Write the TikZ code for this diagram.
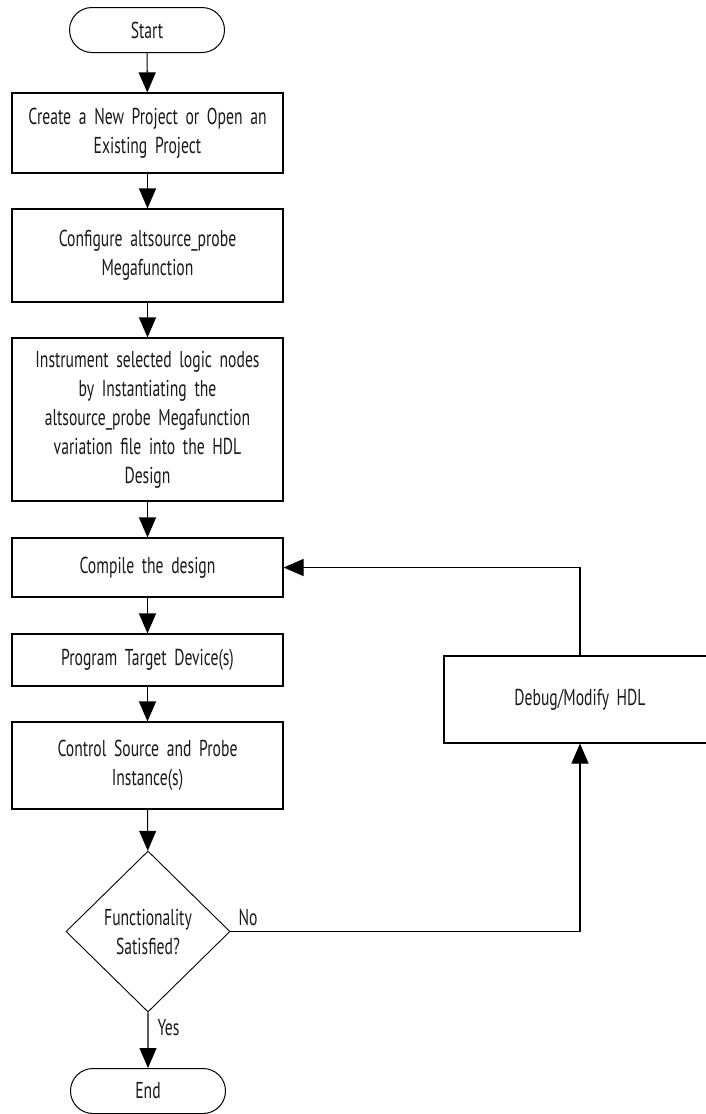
\documentclass[tikz,border=0pt]{standalone}
\usepackage{fontspec}
\setmainfont[FakeStretch=0.68]{PT Sans}
\usetikzlibrary{arrows.meta,shapes.geometric,shapes.misc}
\newcommand{\nodefnt}{\fontsize{23}{29}\selectfont\spaceskip=4.5pt plus 1pt minus 1pt\relax}
\begin{document}
\begin{tikzpicture}[x=1pt,y=-1pt,
  every node/.style={font=\nodefnt, text=black!90},
  box/.style={draw, line width=1.1pt, minimum width=271pt, align=center, inner sep=0pt, text width=250pt},
  term/.style={draw, line width=1pt, rounded rectangle, minimum width=155pt, minimum height=45pt, inner sep=0pt},
  dec/.style={draw, line width=0.9pt, diamond, minimum width=164pt, minimum height=161pt, inner sep=0pt, align=center},
  conn/.style={line width=1.1pt, -{Triangle[length=20pt,width=17pt]}},
  lbl/.style={inner sep=0pt}]
\useasboundingbox (0,0) rectangle (705,1114);
\node[term] (start) at (147,30) {Start};
\node[box, minimum height=80pt] (b1) at (147.5,133) {Create a New Project or Open an\\Existing Project};
\node[box, minimum height=93pt] (b2) at (147.5,255.5) {Configure altsource\_probe\\Megafunction};
\node[box, minimum height=163pt] (b3) at (147.5,419.5) {Instrument selected logic nodes\\by Instantiating the\\altsource\_probe Megafunction\\variation file into the HDL\\Design};
\node[box, minimum height=59pt] (b4) at (147.5,567.5) {Compile the design};
\node[box, minimum height=52pt] (b5) at (147.5,660) {Program Target Device(s)};
\node[box, minimum height=87pt] (b6) at (147.5,765.5) {Control Source and Probe\\Instance(s)};
\node[dec] (d) at (148,931.5) {Functionality\\Satisfied?};
\node[term] (end) at (148,1091) {End};
\node[box, minimum width=272pt, minimum height=87pt] (dbg) at (580,699.5) {Debug/Modify HDL};
\coordinate (c1) at (dbg.south |- d.east);
\coordinate (c2) at (dbg.north |- b4.east);
\draw[conn] (start) -- (b1);
\draw[conn] (b1) -- (b2);
\draw[conn] (b2) -- (b3);
\draw[conn] (b3) -- (b4);
\draw[conn] (b4) -- (b5);
\draw[conn] (b5) -- (b6);
\draw[conn] (b6) -- (d);
\draw[conn] (d) -- (end) node[lbl, pos=0.28, right=9pt] (yes) {Yes};
\draw[conn] (d.east) -- (c1) -- (dbg.south);
\node[lbl, anchor=south west] (no) at ([xshift=8pt,yshift=6pt]d.east) {No};
\draw[conn] (dbg.north) -- (c2) -- (b4.east);
\end{tikzpicture}
\end{document}
